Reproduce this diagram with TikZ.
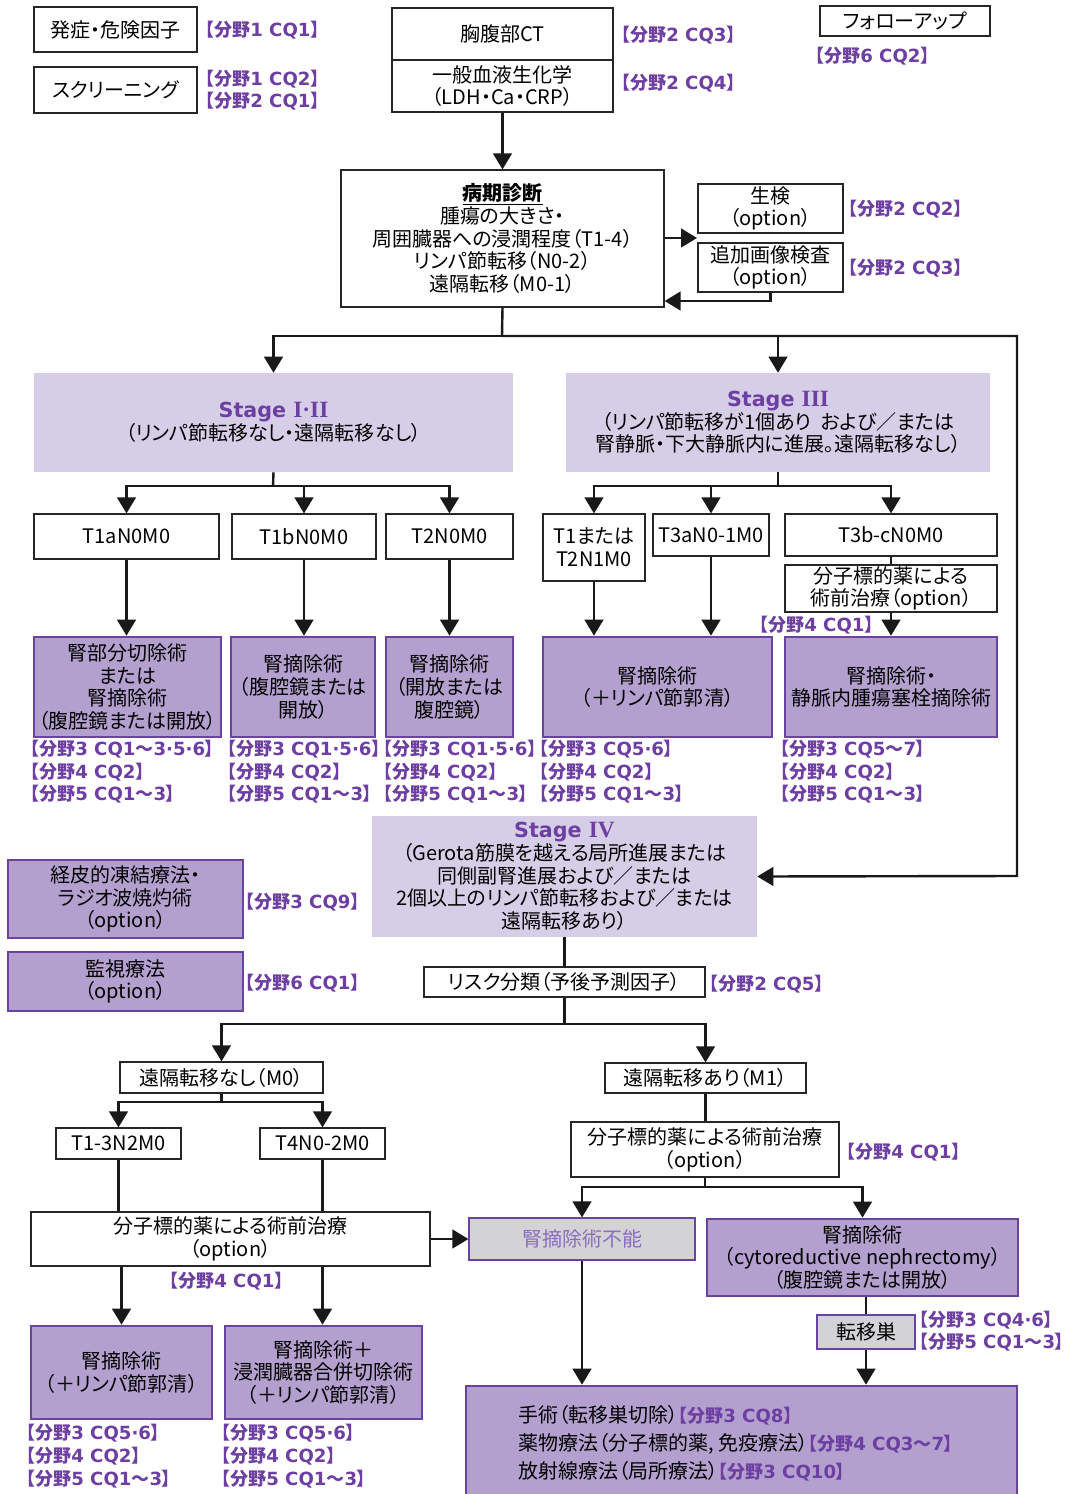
\documentclass[tikz,border=0pt]{standalone}
\usepackage{fontspec}
\setmainfont{Noto Sans CJK JP}[RawFeature=+palt]
\newfontfamily\latfam{DejaVu Sans}
\newfontfamily\romfam{Liberation Serif}
\usetikzlibrary{arrows.meta}
\definecolor{lav}{HTML}{D6CEE7}
\definecolor{pfill}{HTML}{B3A0CE}
\definecolor{pborder}{HTML}{6A43A0}
\definecolor{ptext}{HTML}{6E3FA3}
\definecolor{gfill}{HTML}{D3D3D6}
\definecolor{nftext}{HTML}{8A6CC0}
\newcommand{\mainsz}{\fontsize{15}{17}\selectfont}
\newcommand{\labfont}{\fontsize{13.5}{17}\selectfont\bfseries}
\newcommand{\lt}{\latfam\bfseries\fontsize{13.6}{17}\selectfont}
\newcommand{\wv}{{\rmfamily\bfseries\fontsize{13.5}{17}\selectfont 〜}}
\newcommand{\cq}[2]{{\labfont\color{ptext}【分野{\lt #1 #2}】}}
\newcommand{\stg}[1]{{\color{ptext}\bfseries{\latfam\fontsize{15.5}{17}\selectfont Stage }{\romfam\fontsize{17.5}{17}\selectfont #1}}}
\newcommand{\bx}[7]{\node[#1, minimum width={(#5-#3)*0.75pt}, minimum height={(#6-#4)*0.75pt}] (#2) at ({(#3+#5)/2},{(#4+#6)/2}) {#7};}
\tikzset{
  base/.style={inner sep=0pt, align=center, font=\mainsz},
  wbox/.style={base, draw=black!85, line width=0.9pt, fill=white},
  pbox/.style={base, draw=pborder, line width=2pt, fill=pfill},
  sbox/.style={base, fill=lav},
  gbox/.style={base, draw=pborder, line width=0.9pt, fill=gfill},
  lab/.style={font=\labfont, text=ptext, inner sep=0pt, align=left},
  arr/.style={line width=1.8pt, draw=black!90, -{Triangle[width=14pt,length=12pt]}},
  ln/.style={line width=1.8pt, draw=black!90},
}
\begin{document}
\begin{tikzpicture}[x=0.75pt,y=-0.75pt]
\useasboundingbox (0,0) rectangle (1072,1494);
\clip (0,0) rectangle (1072,1494);
\fill[white] (0,0) rectangle (1072,1494);

% top boxes
\bx{wbox}{hs}{34}{7}{197}{52}{発症・危険因子}
\bx{wbox}{scr}{34}{67}{197}{113}{スクリーニング}
\bx{wbox}{ct1}{392}{8}{613}{60}{胸腹部CT}
\bx{wbox}{ct2}{392}{60}{613}{112}{一般血液生化学\\（LDH・Ca・CRP）}
\bx{wbox}{fu}{820}{6}{990}{36}{フォローアップ}
\bx{wbox}{stg}{341}{170}{664}{307}{\underline{\textbf{病期診断}}\\腫瘍の大きさ・\\周囲臓器への浸潤程度（T1-4）\\リンパ節転移（N0-2）\\遠隔転移（M0-1）}
\bx{wbox}{bio}{698}{184}{843}{233}{生検\\（option）}
\bx{wbox}{ex}{698}{243}{843}{292}{追加画像検査\\（option）}

\node[lab, anchor=west] (l1) at (205,30) {\cq{1}{CQ1}};
\node[lab, anchor=west] (l2) at (205,90) {\cq{1}{CQ2}\\\cq{2}{CQ1}};
\node[lab, anchor=west] (l3) at (621,35) {\cq{2}{CQ3}};
\node[lab, anchor=west] (l4) at (621,83) {\cq{2}{CQ4}};
\node[lab, anchor=west] (l5) at (815,56) {\cq{6}{CQ2}};
\node[lab, anchor=west] (l6) at (848,209) {\cq{2}{CQ2}};
\node[lab, anchor=west] (l7) at (848,268) {\cq{2}{CQ3}};

\draw[arr] (ct2.south) -- (stg.north);
\coordinate (m1c) at (697,238);
\draw[arr] (stg.east |- m1c) -- (m1c);
\draw[arr] (ex.south) |- (stg.east |- 0,301);

% stages I-III
\bx{sbox}{s12}{34}{373}{513}{472}{\stg{I·II}\\（リンパ節転移なし・遠隔転移なし）}
\bx{sbox}{s3}{566}{373}{990}{472}{\stg{III}\\（リンパ節転移が1個あり\ \ および／または\\腎静脈・下大静脈内に進展。遠隔転移なし）}

\coordinate (j1) at (502,336);
\draw[ln] (stg.south) -- (j1);
\draw[arr] (j1) -| (s12.north);
\draw[arr] (j1) -| (s3.north);
\coordinate (rt) at (1017,876);

\bx{wbox}{t1a}{34}{514}{219}{559}{T1aN0M0}
\bx{wbox}{t1b}{232}{514}{376}{559}{T1bN0M0}
\bx{wbox}{t2}{386}{514}{513}{559}{T2N0M0}
\bx{pbox}{p1}{34}{637}{221}{737}{腎部分切除術\\または\\腎摘除術\\（腹腔鏡または開放）}
\bx{pbox}{p2}{231}{637}{375}{737}{腎摘除術\\（腹腔鏡または\\開放）}
\bx{pbox}{p3}{386}{637}{513}{737}{腎摘除術\\（開放または\\腹腔鏡）}

\coordinate (j2) at (273,486);
\draw[ln] (s12.south) -- (j2);
\draw[arr] (j2) -| (t1a.north);
\draw[arr] (j2) -| (t1b.north);
\draw[arr] (j2) -| (t2.north);
\draw[arr] (t1a.south) -- (t1a.south |- p1.north);
\draw[arr] (t1b.south) -- (t1b.south |- p2.north);
\draw[arr] (t2.south) -- (t2.south |- p3.north);

\bx{wbox}{t12}{543}{514}{645}{581}{T1または\\T2N1M0}
\bx{wbox}{t3a}{653}{514}{769}{556}{T3aN0-1M0}
\bx{wbox}{t3b}{785}{514}{997}{556}{T3b-cN0M0}
\bx{wbox}{neo1}{785}{565}{997}{612}{分子標的薬による\\術前治療（option）}
\bx{pbox}{p4}{543}{637}{772}{737}{腎摘除術\\（＋リンパ節郭清）}
\bx{pbox}{p5}{785}{637}{997}{737}{腎摘除術・\\静脈内腫瘍塞栓摘除術}

\coordinate (j3) at (778,486);
\draw[ln] (s3.south) -- (j3);
\draw[arr] (j3) -| (t12.north);
\draw[arr] (j3) -| (t3a.north);
\draw[arr] (j3) -| (t3b.north);
\draw[ln] (t3b.south) -- (neo1.north);
\draw[arr] (t12.south) -- (t12.south |- p4.north);
\draw[arr] (t3a.south) -- (t3a.south |- p4.north);
\draw[arr] (neo1.south) -- (p5.north);
\node[lab, anchor=west] (l8) at (759,625) {\cq{4}{CQ1}};

\node[lab, anchor=north west] (l9) at (30,740) {\cq{3}{CQ1\wv 3·5·6}\\\cq{4}{CQ2}\\\cq{5}{CQ1\wv 3}};
\node[lab, anchor=north west] (l10) at (227,740) {\cq{3}{CQ1·5·6}\\\cq{4}{CQ2}\\\cq{5}{CQ1\wv 3}};
\node[lab, anchor=north west] (l11) at (383,740) {\cq{3}{CQ1·5·6}\\\cq{4}{CQ2}\\\cq{5}{CQ1\wv 3}};
\node[lab, anchor=north west] (l12) at (539,740) {\cq{3}{CQ5·6}\\\cq{4}{CQ2}\\\cq{5}{CQ1\wv 3}};
\node[lab, anchor=north west] (l13) at (780,740) {\cq{3}{CQ5\wv 7}\\\cq{4}{CQ2}\\\cq{5}{CQ1\wv 3}};

% stage IV
\bx{sbox}{s4}{372}{816}{757}{937}{\stg{IV}\\（Gerota筋膜を越える局所進展または\\同側副腎進展および／または\\2個以上のリンパ節転移および／または\\遠隔転移あり）}
\draw[arr] (j1) -| (rt) -- (s4.east);
\bx{pbox}{cryo}{8}{860}{243}{938}{経皮的凍結療法・\\ラジオ波焼灼術\\（option）}
\bx{pbox}{obs}{8}{952}{243}{1011}{監視療法\\（option）}
\node[lab, anchor=west] (l14) at (245,902) {\cq{3}{CQ9}};
\node[lab, anchor=west] (l15) at (245,983) {\cq{6}{CQ1}};

\bx{wbox}{risk}{424}{967}{705}{997}{リスク分類（予後予測因子）}
\node[lab, anchor=west] (l16) at (709,984) {\cq{2}{CQ5}};
\draw[ln] (s4.south) -- (risk.north);

\bx{wbox}{m0}{120}{1062}{323}{1093}{遠隔転移なし（M0）}
\bx{wbox}{m1}{605}{1063}{806}{1093}{遠隔転移あり（M1）}
\coordinate (j4) at (564.5,1024);
\draw[ln] (risk.south) -- (j4);
\draw[arr] (j4) -| (m0.north);
\draw[arr] (j4) -| (m1.north);

\bx{wbox}{n2}{56}{1128}{181}{1159}{T1-3N2M0}
\bx{wbox}{t4}{260}{1128}{385}{1159}{T4N0-2M0}
\coordinate (j5) at (221.5,1102);
\draw[ln] (m0.south) -- (j5);
\draw[arr] (j5) -| (n2.north);
\draw[arr] (j5) -| (t4.north);

\bx{wbox}{neo2}{31}{1212}{430}{1266}{分子標的薬による術前治療\\（option）}
\draw[ln] (n2.south) -- (n2.south |- neo2.north);
\draw[ln] (t4.south) -- (t4.south |- neo2.north);
\node[lab, anchor=west] (l17) at (169,1281) {\cq{4}{CQ1}};

\bx{pbox}{p6}{31}{1326}{212}{1419}{腎摘除術\\（＋リンパ節郭清）}
\bx{pbox}{p7}{225}{1326}{422}{1419}{腎摘除術＋\\浸潤臓器合併切除術\\（＋リンパ節郭清）}
\draw[arr] (p6.north |- neo2.south) -- (p6.north);
\draw[arr] (t4.south |- neo2.south) -- (t4.south |- p7.north);
\node[lab, anchor=north west] (l18) at (26,1424) {\cq{3}{CQ5·6}\\\cq{4}{CQ2}\\\cq{5}{CQ1\wv 3}};
\node[lab, anchor=north west] (l19) at (221,1424) {\cq{3}{CQ5·6}\\\cq{4}{CQ2}\\\cq{5}{CQ1\wv 3}};

\bx{wbox}{neo3}{571}{1122}{839}{1177}{分子標的薬による術前治療\\（option）}
\node[lab, anchor=west] (l20) at (846,1152) {\cq{4}{CQ1}};
\draw[ln] (m1.south) -- (m1.south |- neo3.north);

\bx{gbox}{nf}{469}{1218}{695}{1260}{\textcolor{nftext}{腎摘除術不能}}
\bx{pbox}{cn}{707}{1219}{1018}{1296}{腎摘除術\\（cytoreductive nephrectomy）\\（腹腔鏡または開放）}
\draw[arr] (neo2.east) -- (nf.west);
\coordinate (j6) at (705,1187);
\draw[ln] (neo3.south) -- (j6);
\draw[arr] (j6) -| (nf.north);
\draw[arr] (j6) -| (cn.north);

\bx{gbox}{met}{817}{1315}{915}{1349}{転移巣}
\node[lab, anchor=west] (l21) at (919,1331) {\cq{3}{CQ4·6}\\\cq{5}{CQ1\wv 3}};

\bx{pbox}{big}{466}{1386}{1017}{1502}{}
\node[base, align=left, font=\fontsize{15}{21}\selectfont, anchor=west] (bigt) at (518,1443) {手術（転移巣切除）\cq{3}{CQ8}\\薬物療法（分子標的薬, 免疫療法）\cq{4}{CQ3\wv 7}\\放射線療法（局所療法）\cq{3}{CQ10}};
\draw[ln] (met.north |- cn.south) -- (met.north);
\draw[arr] (nf.south) -- (nf.south |- big.north);
\draw[arr] (met.south) -- (met.south |- big.north);
\end{tikzpicture}
\end{document}
